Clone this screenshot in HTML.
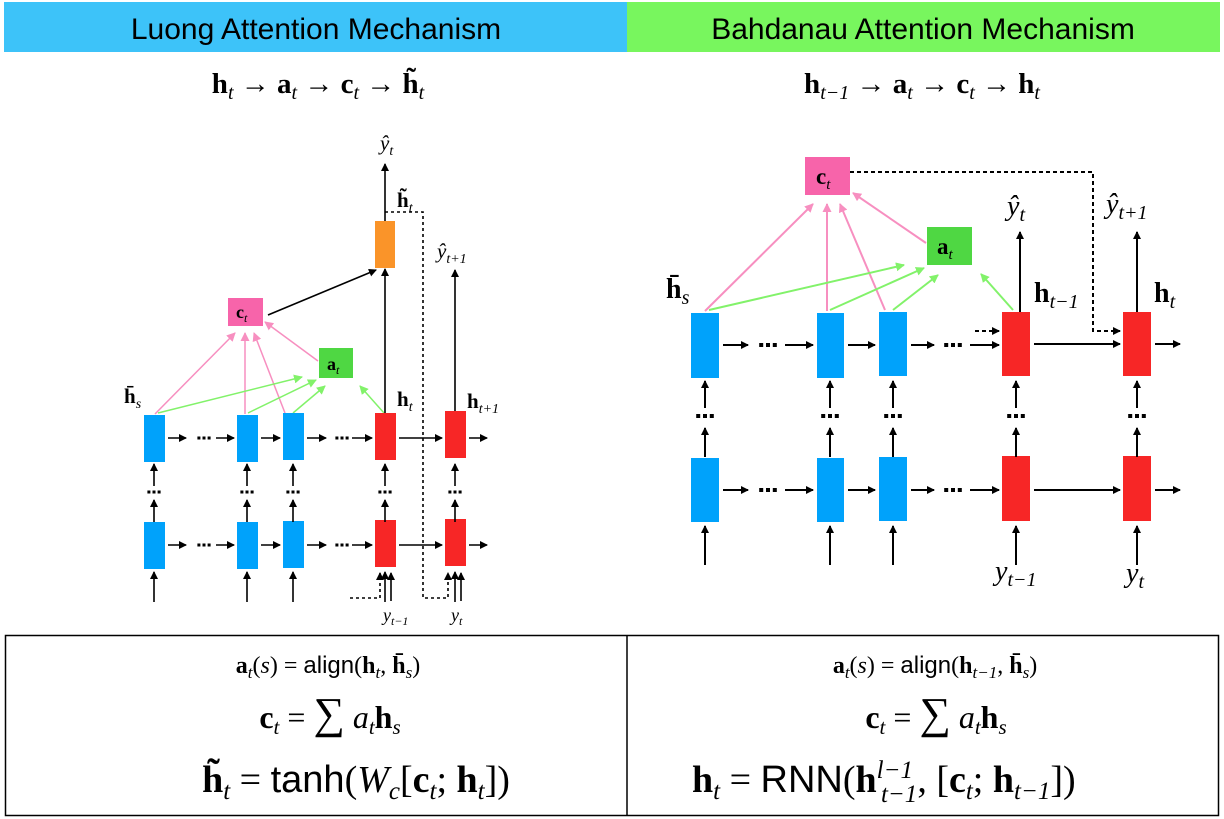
<!DOCTYPE html>
<html><head><meta charset="utf-8"><style>
body{margin:0;background:#fff;}
svg{display:block;font-family:"Liberation Serif",serif;}
.hd{font-family:"Liberation Sans",sans-serif;font-size:30px;}
.sans{font-family:"Liberation Sans",sans-serif;}
</style></head><body>
<svg width="1224" height="819" viewBox="0 0 1224 819">
<defs>
<marker id="ak" markerWidth="8" markerHeight="8" refX="7" refY="4" orient="auto" markerUnits="userSpaceOnUse"><path d="M0,0L8,4L0,8z" fill="#000"/></marker>
<marker id="ap" markerWidth="9" markerHeight="9" refX="8" refY="4.5" orient="auto" markerUnits="userSpaceOnUse"><path d="M0,0L9,4.5L0,9z" fill="#f78fc0"/></marker>
<marker id="ag" markerWidth="9" markerHeight="9" refX="8" refY="4.5" orient="auto" markerUnits="userSpaceOnUse"><path d="M0,0L9,4.5L0,9z" fill="#82f26a"/></marker>
</defs>
<rect x="4" y="2" width="623" height="50" fill="#3dc3f9"/>
<rect x="627" y="2" width="593" height="50" fill="#78f65e"/>
<text class="hd" x="316" y="39" text-anchor="middle">Luong Attention Mechanism</text>
<text class="hd" x="923" y="39" text-anchor="middle">Bahdanau Attention Mechanism</text>
<text x="318" y="93" font-size="29" text-anchor="middle" font-weight="bold">h<tspan font-style="italic" font-weight="normal" font-size="20" dy="6">t</tspan><tspan dy="-6" font-weight="normal"> → </tspan>a<tspan font-style="italic" font-weight="normal" font-size="20" dy="6">t</tspan><tspan dy="-6" font-weight="normal"> → </tspan>c<tspan font-style="italic" font-weight="normal" font-size="20" dy="6">t</tspan><tspan dy="-6" font-weight="normal"> → </tspan>h̃<tspan font-style="italic" font-weight="normal" font-size="20" dy="6">t</tspan></text>
<text x="922" y="93" font-size="29" text-anchor="middle" font-weight="bold">h<tspan font-style="italic" font-weight="normal" font-size="20" dy="6">t−1</tspan><tspan dy="-6" font-weight="normal"> → </tspan>a<tspan font-style="italic" font-weight="normal" font-size="20" dy="6">t</tspan><tspan dy="-6" font-weight="normal"> → </tspan>c<tspan font-style="italic" font-weight="normal" font-size="20" dy="6">t</tspan><tspan dy="-6" font-weight="normal"> → </tspan>h<tspan font-style="italic" font-weight="normal" font-size="20" dy="6">t</tspan></text>

<g id="left" stroke-width="1.6">
<g stroke="#f78fc0" fill="none" stroke-width="1.5">
<line x1="155" y1="414" x2="235" y2="333" marker-end="url(#ap)"/>
<line x1="245" y1="414" x2="245" y2="333" marker-end="url(#ap)"/>
<line x1="285" y1="413" x2="254" y2="333" marker-end="url(#ap)"/>
<line x1="318" y1="361" x2="265" y2="322" marker-end="url(#ap)"/>
</g>
<g stroke="#82f26a" fill="none" stroke-width="1.5">
<line x1="158" y1="413" x2="302" y2="377" marker-end="url(#ag)"/>
<line x1="248" y1="413" x2="316" y2="380" marker-end="url(#ag)"/>
<line x1="293" y1="413" x2="325" y2="386" marker-end="url(#ag)"/>
<line x1="384" y1="413" x2="360" y2="386" marker-end="url(#ag)"/>
</g>
<g stroke="#000" fill="none">
<line x1="268" y1="315" x2="376" y2="270" marker-end="url(#ak)"/>
<line x1="385" y1="413" x2="385" y2="269" marker-end="url(#ak)"/>
<line x1="385" y1="221" x2="385" y2="164" marker-end="url(#ak)"/>
<line x1="455" y1="411" x2="455" y2="270" marker-end="url(#ak)"/>
<path d="M385,212H423V598H448V573" stroke-dasharray="3,3" marker-end="url(#ak)"/>
<path d="M350,598H380V573" stroke-dasharray="3,3" marker-end="url(#ak)"/>
<line x1="391" y1="601" x2="391" y2="573" marker-end="url(#ak)"/>
<line x1="461" y1="601" x2="461" y2="573" marker-end="url(#ak)"/>
</g>
<g fill="#00a2fb">
<rect x="144" y="415" width="21" height="47"/><rect x="237" y="415" width="21" height="47"/><rect x="283" y="413" width="21" height="47"/>
<rect x="144" y="522" width="21" height="47"/><rect x="237" y="522" width="21" height="47"/><rect x="283" y="521" width="21" height="47"/>
</g>
<g fill="#f72626">
<rect x="375" y="413" width="21" height="47"/><rect x="445" y="411" width="21" height="47"/>
<rect x="375" y="520" width="21" height="47"/><rect x="445" y="519" width="21" height="47"/>
</g>
<rect x="375" y="221" width="20" height="47" fill="#fa9429"/>
<rect x="228" y="298" width="35" height="28" fill="#f764aa"/>
<rect x="319" y="348" width="34" height="30" fill="#4fd743"/>
<text x="236" y="318" font-size="18" font-weight="bold">c<tspan font-size="12" font-style="italic" font-weight="normal" dy="4">t</tspan></text>
<text x="327" y="370" font-size="18" font-weight="bold">a<tspan font-size="12" font-style="italic" font-weight="normal" dy="4">t</tspan></text>
<g font-size="21">
<text x="380" y="150" font-style="italic">ŷ<tspan font-size="14" dy="5">t</tspan></text>
<text x="437" y="258" font-style="italic">ŷ<tspan font-size="14" dy="5">t+1</tspan></text>
<text x="397" y="207" font-weight="bold">h̃<tspan font-size="14" font-style="italic" font-weight="normal" dy="5">t</tspan></text>
<text x="124" y="403" font-weight="bold">h̄<tspan font-size="14" font-style="italic" font-weight="normal" dy="5">s</tspan></text>
<text x="397" y="406" font-weight="bold">h<tspan font-size="14" font-style="italic" font-weight="normal" dy="5">t</tspan></text>
<text x="467" y="408" font-weight="bold">h<tspan font-size="14" font-style="italic" font-weight="normal" dy="5">t+1</tspan></text>
<text x="383" y="621" font-style="italic" font-size="18">y<tspan font-size="12" dy="4">t−1</tspan></text>
<text x="451" y="621" font-style="italic" font-size="18">y<tspan font-size="12" dy="4">t</tspan></text>
</g>
</g>

<g id="right" stroke-width="2">
<g stroke="#f78fc0" fill="none" stroke-width="2">
<line x1="705" y1="311" x2="813" y2="204" marker-end="url(#ap)"/>
<line x1="827" y1="311" x2="827" y2="204" marker-end="url(#ap)"/>
<line x1="885" y1="310" x2="840" y2="204" marker-end="url(#ap)"/>
<line x1="926" y1="243" x2="853" y2="193" marker-end="url(#ap)"/>
</g>
<g stroke="#82f26a" fill="none" stroke-width="2">
<line x1="709" y1="310" x2="904" y2="265" marker-end="url(#ag)"/>
<line x1="830" y1="310" x2="924" y2="268" marker-end="url(#ag)"/>
<line x1="893" y1="310" x2="938" y2="275" marker-end="url(#ag)"/>
<line x1="1013" y1="310" x2="981" y2="274" marker-end="url(#ag)"/>
</g>
<g stroke="#000" fill="none">
<line x1="1020" y1="312" x2="1020" y2="232" marker-end="url(#ak)"/>
<line x1="1137" y1="312" x2="1137" y2="232" marker-end="url(#ak)"/>
<path d="M850,172H1093V331H1120" stroke-dasharray="4,3" marker-end="url(#ak)"/>
<line x1="975" y1="331" x2="999" y2="331" stroke-dasharray="4,3" marker-end="url(#ak)"/>
<line x1="1034" y1="344" x2="1120" y2="344" marker-end="url(#ak)"/>
<line x1="1034" y1="490" x2="1120" y2="490" marker-end="url(#ak)"/>
<line x1="1155" y1="344" x2="1180" y2="344" marker-end="url(#ak)"/>
<line x1="1155" y1="490" x2="1180" y2="490" marker-end="url(#ak)"/>
</g>
<g fill="#00a2fb">
<rect x="691" y="313" width="28" height="65"/><rect x="817" y="313" width="27" height="65"/><rect x="879" y="312" width="28" height="64"/>
<rect x="691" y="458" width="28" height="64"/><rect x="817" y="458" width="27" height="64"/><rect x="879" y="457" width="28" height="64"/>
</g>
<g fill="#f72626">
<rect x="1002" y="312" width="28" height="64"/><rect x="1123" y="312" width="28" height="64"/>
<rect x="1002" y="456" width="28" height="65"/><rect x="1123" y="456" width="28" height="65"/>
</g>
<rect x="805" y="157" width="45" height="38" fill="#f764aa"/>
<rect x="927" y="227" width="45" height="38" fill="#4fd743"/>
<text x="816" y="184" font-size="23" font-weight="bold">c<tspan font-size="15" font-style="italic" font-weight="normal" dy="5">t</tspan></text>
<text x="937" y="254" font-size="23" font-weight="bold">a<tspan font-size="15" font-style="italic" font-weight="normal" dy="5">t</tspan></text>
<g font-size="28">
<text x="1007" y="215" font-style="italic">ŷ<tspan font-size="20" dy="6">t</tspan></text>
<text x="1106" y="213" font-style="italic">ŷ<tspan font-size="20" dy="6">t+1</tspan></text>
<text x="666" y="298" font-weight="bold">h̄<tspan font-size="20" font-style="italic" font-weight="normal" dy="6">s</tspan></text>
<text x="1034" y="302" font-weight="bold">h<tspan font-size="20" font-style="italic" font-weight="normal" dy="6">t−1</tspan></text>
<text x="1154" y="302" font-weight="bold">h<tspan font-size="20" font-style="italic" font-weight="normal" dy="6">t</tspan></text>
<text x="995" y="580" font-style="italic">y<tspan font-size="20" dy="6">t−1</tspan></text>
<text x="1126" y="582" font-style="italic">y<tspan font-size="20" dy="6">t</tspan></text>
</g>
</g>

<g id="gen"></g>

<rect x="5.5" y="635.5" width="1213" height="180" fill="none" stroke="#000" stroke-width="1.5"/>
<line x1="627" y1="635" x2="627" y2="816" stroke="#000" stroke-width="1.5"/>
<g>
<text x="328" y="673" font-size="24" text-anchor="middle"><tspan font-weight="bold">a</tspan><tspan font-style="italic" font-size="17" dy="5">t</tspan><tspan dy="-5">(</tspan><tspan font-style="italic">s</tspan>) = <tspan class="sans">align</tspan>(<tspan font-weight="bold">h</tspan><tspan font-style="italic" font-size="17" dy="5">t</tspan><tspan dy="-5">, </tspan><tspan font-weight="bold">h̄</tspan><tspan font-style="italic" font-size="17" dy="5">s</tspan><tspan dy="-5">)</tspan></text>
<text x="330" y="728" font-size="32" text-anchor="middle"><tspan font-weight="bold">c</tspan><tspan font-style="italic" font-size="21" dy="6">t</tspan><tspan dy="-6"> = </tspan><tspan font-size="44">∑</tspan><tspan font-style="italic"> a</tspan><tspan font-style="italic" font-size="21" dy="6">t</tspan><tspan dy="-6" font-weight="bold">h</tspan><tspan font-style="italic" font-size="21" dy="6">s</tspan></text>
<text x="356" y="792" font-size="38" text-anchor="middle"><tspan font-weight="bold">h̃</tspan><tspan font-style="italic" font-size="25" dy="7">t</tspan><tspan dy="-7"> = </tspan><tspan class="sans">tanh</tspan>(<tspan font-style="italic">W</tspan><tspan font-style="italic" font-size="25" dy="7">c</tspan><tspan dy="-7">[</tspan><tspan font-weight="bold">c</tspan><tspan font-style="italic" font-size="25" dy="7">t</tspan><tspan dy="-7">; </tspan><tspan font-weight="bold">h</tspan><tspan font-style="italic" font-size="25" dy="7">t</tspan><tspan dy="-7">])</tspan></text>
</g>
<g>
<text x="935" y="673" font-size="24" text-anchor="middle"><tspan font-weight="bold">a</tspan><tspan font-style="italic" font-size="17" dy="5">t</tspan><tspan dy="-5">(</tspan><tspan font-style="italic">s</tspan>) = <tspan class="sans">align</tspan>(<tspan font-weight="bold">h</tspan><tspan font-style="italic" font-size="17" dy="5">t−1</tspan><tspan dy="-5">, </tspan><tspan font-weight="bold">h̄</tspan><tspan font-style="italic" font-size="17" dy="5">s</tspan><tspan dy="-5">)</tspan></text>
<text x="936" y="728" font-size="32" text-anchor="middle"><tspan font-weight="bold">c</tspan><tspan font-style="italic" font-size="21" dy="6">t</tspan><tspan dy="-6"> = </tspan><tspan font-size="44">∑</tspan><tspan font-style="italic"> a</tspan><tspan font-style="italic" font-size="21" dy="6">t</tspan><tspan dy="-6" font-weight="bold">h</tspan><tspan font-style="italic" font-size="21" dy="6">s</tspan></text>
<text x="692" y="792" font-size="38"><tspan font-weight="bold">h</tspan><tspan font-style="italic" font-size="25" dy="7">t</tspan><tspan dy="-7"> = </tspan><tspan class="sans">RNN</tspan>(<tspan font-weight="bold">h</tspan><tspan font-style="italic" font-size="25" dy="-14">l−1</tspan><tspan font-style="italic" font-size="25" dx="-32" dy="24">t−1</tspan><tspan dy="-10">, [</tspan><tspan font-weight="bold">c</tspan><tspan font-style="italic" font-size="25" dy="7">t</tspan><tspan dy="-7">; </tspan><tspan font-weight="bold">h</tspan><tspan font-style="italic" font-size="25" dy="7">t−1</tspan><tspan dy="-7">])</tspan></text>
</g>
</svg>
<script>
const NS="http://www.w3.org/2000/svg";
const g=document.getElementById('gen');
function L(x1,y1,x2,y2,arrow,w){const l=document.createElementNS(NS,'line');l.setAttribute('x1',x1);l.setAttribute('y1',y1);l.setAttribute('x2',x2);l.setAttribute('y2',y2);l.setAttribute('stroke','#000');l.setAttribute('stroke-width',w);if(arrow)l.setAttribute('marker-end','url(#ak)');


g.appendChild(l);}
function D(x,y,s){for(let i=-1;i<=1;i++){const r=document.createElementNS(NS,'rect');r.setAttribute('x',x+i*s*1.7-s/2);r.setAttribute('y',y-s/2);r.setAttribute('width',s);r.setAttribute('height',s);r.setAttribute('fill','#000');


g.appendChild(r);}}
const lc=[154,247,293,385,455];
lc.forEach(x=>{L(x,602,x,572,1,1.6);L(x,522,x,500,1,1.6);D(x,492,3);L(x,486,x,464,1,1.6);});
[438,545].forEach(y=>{L(168,y,186,y,1,1.6);D(204,y,3);L(216,y,234,y,1,1.6);L(261,y,280,y,1,1.6);L(307,y,326,y,1,1.6);D(342,y,3);L(352,y,372,y,1,1.6);L(399,y,442,y,1,1.6);L(469,y,487,y,1,1.6);});
const rc=[705,830,893,1016,1137];
rc.forEach(x=>{L(x,565,x,526,1,2);L(x,457,x,428,1,2);D(x,416,4);L(x,408,x,381,1,2);});
[345,490].forEach(y=>{L(723,y,748,y,1,2);D(768,y,4);L(785,y,813,y,1,2);L(848,y,875,y,1,2);L(911,y,934,y,1,2);D(953,y,4);L(970,y,999,y,1,2);});
</script>
</body></html>
